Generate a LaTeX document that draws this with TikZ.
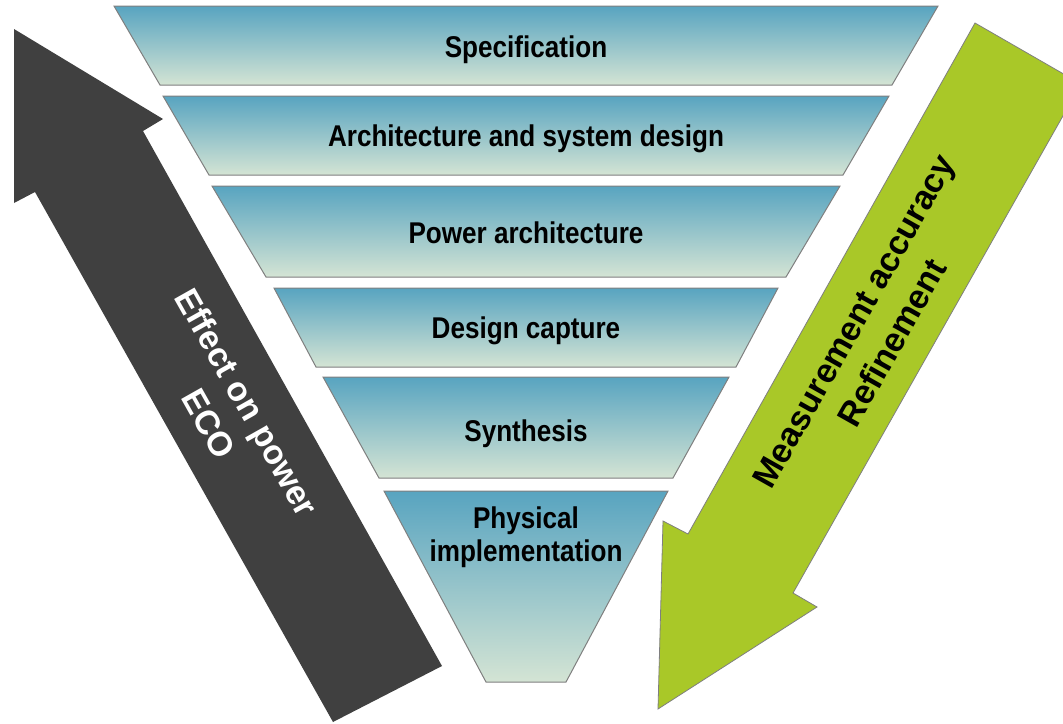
\documentclass[tikz,border=0pt]{standalone}
\usepackage{fontspec}
\setmainfont{Liberation Sans}
\newfontfamily\narrowfont{Liberation Sans}[FakeStretch=0.87]
\definecolor{tealtop}{RGB}{88,164,192}
\definecolor{palebot}{RGB}{212,228,212}
\definecolor{edgegray}{RGB}{127,127,127}
\definecolor{darkarrow}{RGB}{64,64,64}
\definecolor{greenarrow}{RGB}{169,200,40}
\begin{document}
\begin{tikzpicture}[x=1pt,y=-1pt,
 layer/.style={draw=edgegray, line width=1pt, top color=tealtop, bottom color=palebot},
 layertext/.style={font=\narrowfont\bfseries\fontsize{30}{33}\selectfont, anchor=base, inner sep=0pt},
 arrowtext/.style={font=\bfseries\fontsize{34}{44}\selectfont, align=center, inner sep=0pt}]
\useasboundingbox (0,0) rectangle (1063,723);
\clip (0,0) rectangle (1063,723);
% arrows
\fill[darkarrow] (14,29) -- (163,119) -- (143,131) -- (442,666) -- (333,722) -- (35,192) -- (14,203) -- cycle;
\filldraw[fill=greenarrow, draw=edgegray, line width=0.8pt] (975,23) -- (1081,84) -- (793,593) -- (817,607) -- (658,709) -- (663,521) -- (688,534) -- cycle;
% layers
\path[layer] (114,6) -- (938,6) -- (892,85) -- (160,85) -- cycle;
\path[layer] (163,96) -- (889,96) -- (843,175) -- (209,175) -- cycle;
\path[layer] (212,186) -- (840,186) -- (786,277) -- (266,277) -- cycle;
\path[layer] (274,288) -- (778,288) -- (736,367) -- (316,367) -- cycle;
\path[layer] (323,377) -- (729,377) -- (673,478) -- (379,478) -- cycle;
\path[layer] (384,491) -- (668,491) -- (566,682) -- (486,682) -- cycle;
% layer texts
\node[layertext] (spec) at (526,57) {Specification};
\node[layertext] (arch) at (526,146) {Architecture and system design};
\node[layertext] (parch) at (526,243) {Power architecture};
\node[layertext] (dcap) at (526,338) {Design capture};
\node[layertext] (synth) at (526,441) {Synthesis};
\node[layertext] (phys) at (526,528) {Physical};
\node[layertext] (impl) at (526,561) {implementation};
% arrow texts
\node[arrowtext, text=white, rotate=-60.6] (effect) at (228,413) {Effect on power\\ECO};
\node[arrowtext, rotate=60.6] (meas) at (873,332) {Measurement accuracy\\Refinement};
\end{tikzpicture}
\end{document}
